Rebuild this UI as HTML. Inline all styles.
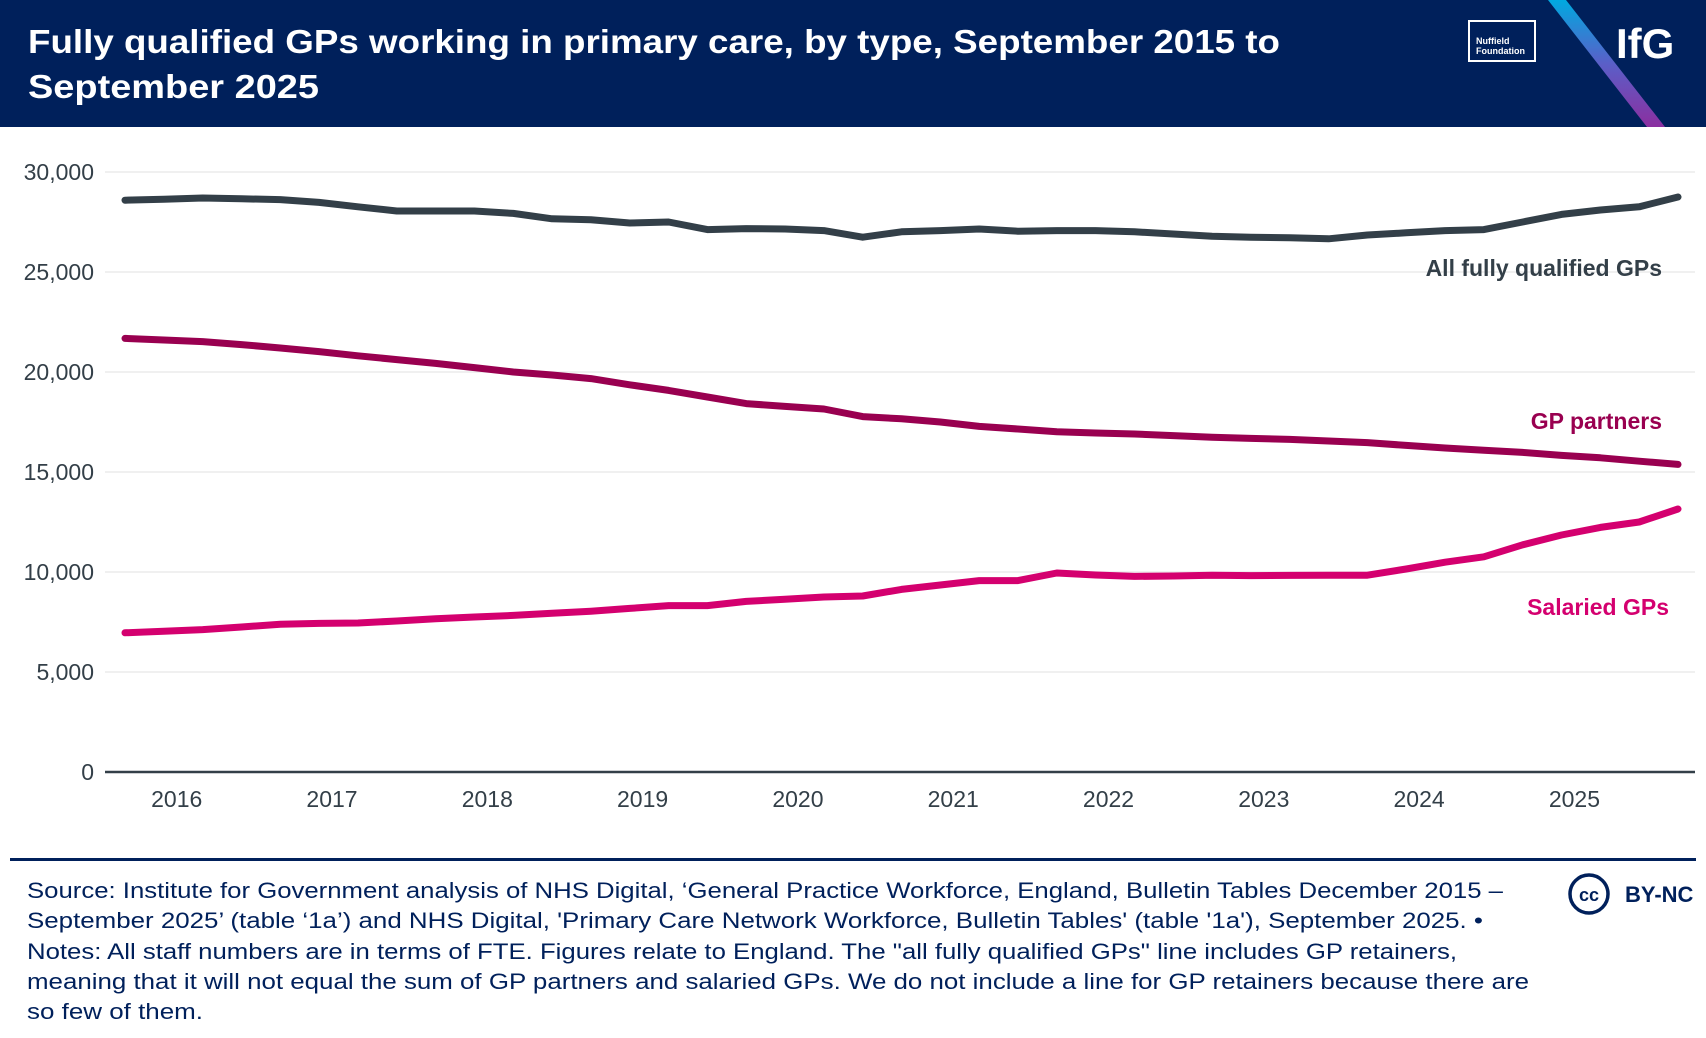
<!DOCTYPE html>
<html><head><meta charset="utf-8"><style>
html,body{margin:0;padding:0;background:#fff;}
svg{display:block;font-family:"Liberation Sans",sans-serif;}
</style></head><body>
<svg id="chart" width="1706" height="1038" viewBox="0 0 1706 1038">
<defs><linearGradient id="g" x1="0" y1="0" x2="0" y2="1"><stop offset="0" stop-color="#00a9e0"/><stop offset="0.5" stop-color="#5a5fc8"/><stop offset="1" stop-color="#8b2fa0"/></linearGradient></defs>
<rect x="0" y="0" width="1706" height="127" fill="#00205b"/>
<polygon points="1548,0 1566,0 1665,127 1647,127" fill="url(#g)"/>
<text x="28" y="53" fill="#fff" font-size="33" font-weight="bold" textLength="1252" lengthAdjust="spacingAndGlyphs">Fully qualified GPs working in primary care, by type, September 2015 to</text>
<text x="28" y="98" fill="#fff" font-size="33" font-weight="bold" textLength="291" lengthAdjust="spacingAndGlyphs">September 2025</text>
<g>
<rect x="1469" y="21" width="66" height="40" fill="none" stroke="#fff" stroke-width="2"/>
<text x="1476" y="44" fill="#fff" font-size="9" font-weight="bold">Nuffield</text>
<text x="1476" y="54" fill="#fff" font-size="9" font-weight="bold">Foundation</text>
</g>
<text x="1616" y="58" fill="#fff" font-size="42" font-weight="bold">IfG</text>
<g id="grid"></g><g id="yt"></g><g id="xt"></g><g id="lines"></g>
<line x1="105" y1="772" x2="1695" y2="772" stroke="#333f48" stroke-width="2.5"/>
<text x="1662" y="276" text-anchor="end" fill="#333f48" font-size="23" font-weight="bold">All fully qualified GPs</text>
<text x="1662" y="429" text-anchor="end" fill="#990050" font-size="23" font-weight="bold">GP partners</text>
<text x="1669" y="615" text-anchor="end" fill="#d4006f" font-size="23" font-weight="bold">Salaried GPs</text>
<rect x="10" y="858" width="1686" height="3" fill="#00205b"/>
<g fill="#00205b" font-size="22">
<text x="27" y="898" textLength="1476" lengthAdjust="spacingAndGlyphs">Source: Institute for Government analysis of NHS Digital, ‘General Practice Workforce, England, Bulletin Tables December 2015 –</text>
<text x="27" y="928" textLength="1456" lengthAdjust="spacingAndGlyphs">September 2025’ (table ‘1a’) and NHS Digital, 'Primary Care Network Workforce, Bulletin Tables' (table '1a'), September 2025. •</text>
<text x="27" y="959" textLength="1430" lengthAdjust="spacingAndGlyphs">Notes: All staff numbers are in terms of FTE. Figures relate to England. The "all fully qualified GPs" line includes GP retainers,</text>
<text x="27" y="989" textLength="1502" lengthAdjust="spacingAndGlyphs">meaning that it will not equal the sum of GP partners and salaried GPs. We do not include a line for GP retainers because there are</text>
<text x="27" y="1019" textLength="176" lengthAdjust="spacingAndGlyphs">so few of them.</text>
</g>
<g>
<circle cx="1589" cy="894" r="19" fill="none" stroke="#00205b" stroke-width="3.5"/>
<text x="1589" y="901" text-anchor="middle" fill="#00205b" font-size="18" font-weight="bold">cc</text>
<text x="1625" y="902" fill="#00205b" font-size="22" font-weight="bold">BY-NC</text>
</g>
</svg>
<script>
const yTicks=[0,5000,10000,15000,20000,25000,30000];
const yTickLabels=["0","5,000","10,000","15,000","20,000","25,000","30,000"];
const xYears=[2016,2017,2018,2019,2020,2021,2022,2023,2024,2025];
const startYear=2015.667;
const stepYears=0.25;
const allGPs=[28590,28640,28700,28660,28620,28480,28260,28050,28050,28050,27930,27660,27610,27450,27500,27120,27170,27150,27070,26740,27010,27070,27150,27040,27070,27070,27010,26900,26790,26740,26710,26660,26850,26960,27070,27120,27500,27880,28100,28260,28750];
const partners=[21680,21600,21520,21370,21200,21020,20810,20620,20430,20220,20000,19850,19670,19360,19080,18750,18420,18280,18150,17770,17660,17500,17280,17150,17010,16950,16900,16820,16740,16680,16630,16550,16470,16330,16200,16090,15980,15830,15710,15540,15380];
const salaried=[6960,7040,7120,7250,7390,7430,7450,7550,7660,7750,7830,7940,8040,8180,8320,8320,8530,8640,8750,8800,9130,9350,9570,9570,9950,9850,9780,9800,9840,9820,9830,9840,9840,10150,10490,10760,11360,11850,12230,12500,13150];
const NS="http://www.w3.org/2000/svg";
const X=t=>125+(t-startYear)*155.3;
const Y=v=>772-v*0.02;
const mk=(tag,attrs,parent)=>{const e=document.createElementNS(NS,tag);for(const k in attrs)e.setAttribute(k,attrs[k]);document.getElementById(parent).appendChild(e);return e;};
yTicks.forEach((v,i)=>{
  if(v>0){const g=mk('line',{x1:105,x2:1695,y1:Y(v),y2:Y(v),stroke:'#ececec','stroke-width':1.5},'grid');
  
  }
  const t=mk('text',{x:94,y:Y(v)+8,'text-anchor':'end',fill:'#333f48','font-size':23},'yt');
  t.textContent=yTickLabels[i];
  
  
});
xYears.forEach(y=>{
  const t=mk('text',{x:X(y),y:807,'text-anchor':'middle',fill:'#333f48','font-size':23},'xt');
  t.textContent=String(y);
  
  
});
[[allGPs,'#333f48','line-all-gps'],[partners,'#990050','line-gp-partners'],[salaried,'#d4006f','line-salaried-gps']].forEach(([d,c,n])=>{
  const pts=d.map((v,i)=>X(startYear+i*stepYears).toFixed(1)+','+Y(v).toFixed(1)).join(' ');
  const p=mk('polyline',{points:pts,fill:'none',stroke:c,'stroke-width':7,'stroke-linejoin':'round','stroke-linecap':'round'},'lines');
  
  
});
</script>
</body></html>
